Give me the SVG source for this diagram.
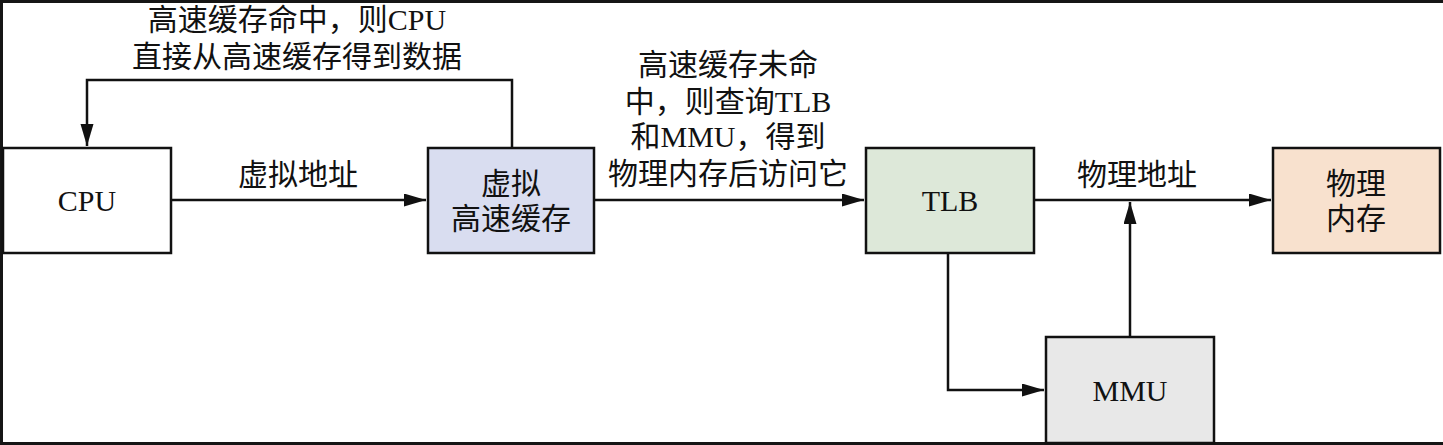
<svg xmlns="http://www.w3.org/2000/svg" width="1443" height="445" viewBox="0 0 1443 445">
<style>
.box{stroke:#111;stroke-width:2.5}
.t{font-family:"Liberation Serif","Noto Sans CJK SC",serif;font-size:30px;fill:#111;text-anchor:middle}
.c{fill:none;stroke:#111;stroke-width:2.5}
</style>
<defs>
<marker id="ah" markerUnits="userSpaceOnUse" markerWidth="24" markerHeight="14" refX="22" refY="6.5" orient="auto">
<path d="M0,0 L22,6.5 L0,13 z" fill="#111"/>
</marker>
</defs>
<rect x="0" y="0" width="1443" height="445" fill="#fff"/>
<rect x="0" y="0" width="1443" height="3" fill="#151515"/>
<rect x="0" y="0" width="3" height="445" fill="#151515"/>
<rect x="0" y="442" width="1443" height="3" fill="#151515"/>

<g id="connectors">
<path class="c" d="M512,148 V80 H87 V146" marker-end="url(#ah)"/>
<path class="c" d="M171,200 H426" marker-end="url(#ah)"/>
<path class="c" d="M594,200 H864" marker-end="url(#ah)"/>
<path class="c" d="M1034,200 H1271" marker-end="url(#ah)"/>
<path class="c" d="M948,253 V390 H1044" marker-end="url(#ah)"/>
<path class="c" d="M1130,337 V202" marker-end="url(#ah)"/>
<text class="t" x="297" y="30">高速缓存命中，则CPU</text>
<text class="t" x="297" y="67">直接从高速缓存得到数据</text>
<text class="t" x="298" y="185">虚拟地址</text>
<text class="t" x="728" y="75">高速缓存未命</text>
<text class="t" x="728" y="112">中，则查询TLB</text>
<text class="t" x="728" y="147">和MMU，得到</text>
<text class="t" x="728" y="184">物理内存后访问它</text>
<text class="t" x="1137" y="185">物理地址</text>
</g>

<g id="cpu">
<rect class="box" x="3" y="148" width="168" height="105" fill="#fff"/>
<text class="t" x="87" y="211">CPU</text>
</g>
<g id="vcache">
<rect class="box" x="428" y="148" width="166" height="105" fill="#d9ddf0"/>
<text class="t" x="511" y="194">虚拟</text>
<text class="t" x="511" y="229">高速缓存</text>
</g>
<g id="tlb">
<rect class="box" x="866" y="148" width="168" height="105" fill="#dde8d9"/>
<text class="t" x="950" y="211">TLB</text>
</g>
<g id="pmem">
<rect class="box" x="1273" y="148" width="167" height="105" fill="#f8e1ce"/>
<text class="t" x="1356" y="194">物理</text>
<text class="t" x="1356" y="229">内存</text>
</g>
<g id="mmu">
<rect class="box" x="1046" y="337" width="168" height="106" fill="#e8e8e8"/>
<text class="t" x="1130" y="401">MMU</text>
</g>
</svg>
